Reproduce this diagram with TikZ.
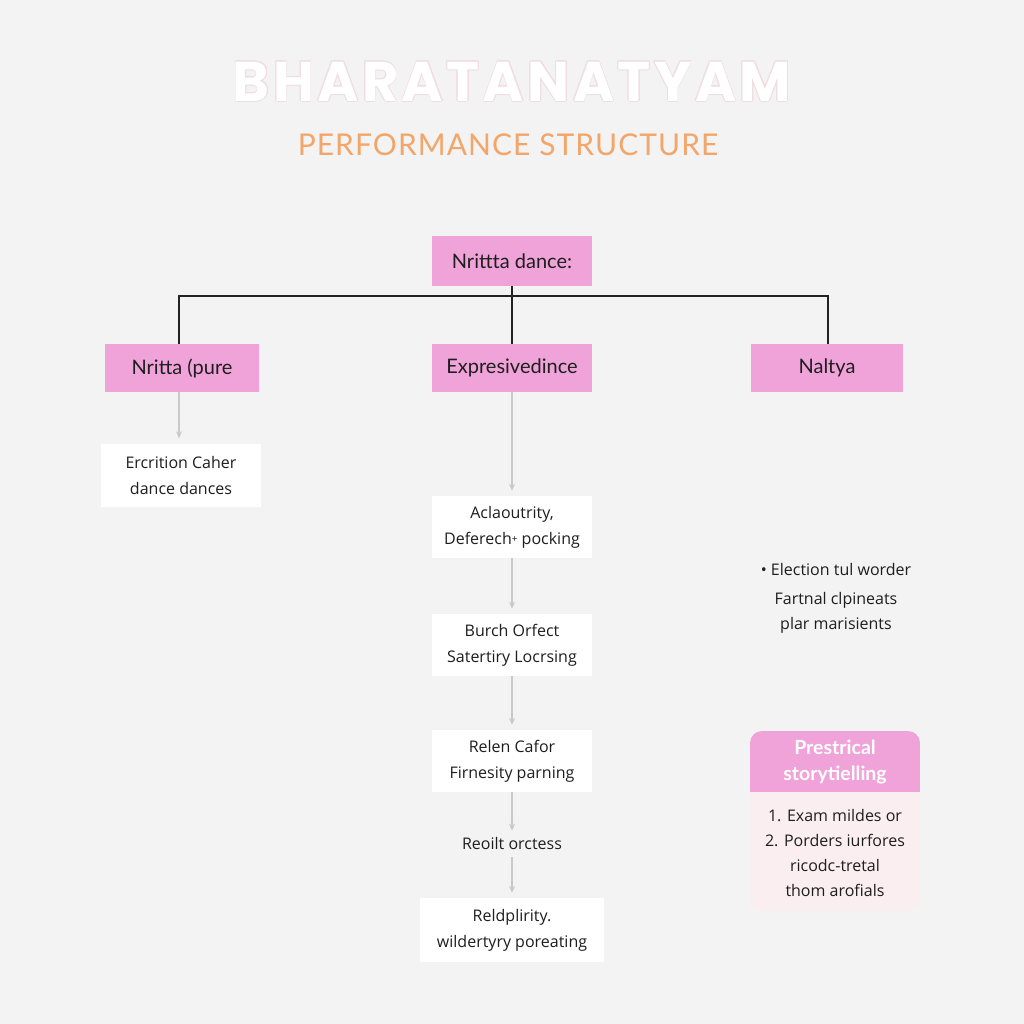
\documentclass[tikz,border=0pt]{standalone}
\usepackage{fontspec}
\setmainfont{Lato}
\newfontfamily\bodyf{Open Sans}
\newfontfamily\titlef{Poppins}
\usepackage{contour}
\usetikzlibrary{arrows.meta}
\definecolor{bgc}{HTML}{F3F3F3}
\definecolor{pinkc}{HTML}{F0A3D9}
\definecolor{cardbody}{HTML}{FBEEF1}
\definecolor{orangec}{HTML}{F2A66A}
\definecolor{titleedge}{HTML}{F0DCE1}
\definecolor{linec}{HTML}{222222}
\definecolor{arrc}{HTML}{C9C9C9}
\definecolor{txt}{HTML}{1E1E1E}
\tikzset{
  pinkbox/.style={fill=pinkc, draw=none, inner sep=0pt, text=txt, font=\fontsize{20}{24}\selectfont},
  whitebox/.style={fill=white, draw=none, inner sep=0pt, text=txt, align=center, font=\bodyf\fontsize{16}{26}\selectfont},
  plaintext/.style={inner sep=0pt, text=txt, align=center, font=\bodyf\fontsize{16}{25}\selectfont},
  conn/.style={draw=linec, line width=1.6pt},
  garr/.style={draw=arrc, line width=1.3pt, -{Stealth[length=7pt,width=6pt]}, shorten >=5pt},
}
\contourlength{0.8pt}
\begin{document}
\begin{tikzpicture}[x=1pt,y=-1pt]
\useasboundingbox[fill=bgc] (0,0) rectangle (1024,1024);
% titles
\node[inner sep=0pt, text=white, font=\titlef\bfseries\fontsize{56}{60}\selectfont] (title) at (512,82)
  {\addfontfeatures{LetterSpace=6}\contour{titleedge}{BHARATANATYAM}};
\node[inner sep=0pt, text=orangec, font=\fontsize{30}{32}\selectfont] (sub) at (508,145)
  {\addfontfeatures{LetterSpace=3.5}PERFORMANCE STRUCTURE};
% top hierarchy
\node[pinkbox, minimum width=160pt, minimum height=50pt] (n0) at (512,261) {Nrittta dance:};
\node[pinkbox, minimum width=154pt, minimum height=48pt] (n1) at (182,368) {Nritta (pure};
\node[pinkbox, minimum width=160pt, minimum height=48pt] (n2) at (512,368) {Expresivedince};
\node[pinkbox, minimum width=152pt, minimum height=48pt] (n3) at (827,368) {Naltya};
\coordinate (j) at (512,296);
\coordinate (hl) at (179,296);
\coordinate (hr) at (828,296);
\draw[conn] (n0.south) -- (n2.north);
\draw[conn] (hl |- n1.north) -- (hl) -- (hr) -- (hr |- n3.north);
% left column
\node[whitebox, minimum width=160pt, minimum height=63pt] (l1) at (181,475) {Ercrition Caher\\dance dances};
\draw[garr] (hl |- n1.south) -- (hl |- l1.north);
% middle column
\node[whitebox, minimum width=160pt, minimum height=62pt] (m1) at (512,527) {Aclaoutrity,\\Deferech\raisebox{0.2ex}{\fontsize{10}{10}\selectfont+} pocking};
\node[whitebox, minimum width=160pt, minimum height=62pt] (m2) at (512,645) {Burch Orfect\\Satertiry Locrsing};
\node[whitebox, minimum width=160pt, minimum height=62pt] (m3) at (512,761) {Relen Cafor\\Firnesity parning};
\node[plaintext] (m4) at (512,843) {Reoilt orctess};
\node[whitebox, minimum width=184pt, minimum height=64pt] (m5) at (512,930) {Reldplirity.\\wildertyry poreating};
\draw[garr] (n2.south) -- (m1.north);
\draw[garr] (m1.south) -- (m2.north);
\draw[garr] (m2.south) -- (m3.north);
\draw[garr, shorten >=6pt] (m3.south) -- (m4.north);
\draw[garr, shorten <=8pt] (m4.south) -- (m5.north);
% right column
\node[plaintext] (r1) at (836,569) {\textbullet\ Election tul worder};
\node[plaintext] (r2) at (836,613) {Fartnal clpineats\\plar marisients};
% card
\begin{scope}
  \clip[rounded corners=12pt] (750,731) rectangle (920,911);
  \fill[cardbody] (750,731) rectangle (920,911);
  \fill[pinkc] (750,731) rectangle (920,792);
\end{scope}
\node[inner sep=0pt, text=white, align=center, font=\bfseries\fontsize{19.5}{26}\selectfont] (ch) at (835,762) {Prestrical\\storytielling};
\node[plaintext, align=center] (cb) at (835,853) {1. Exam mildes or\\2. Porders iurfores\\ricodc-tretal\\thom arofials};
\end{tikzpicture}
\end{document}
